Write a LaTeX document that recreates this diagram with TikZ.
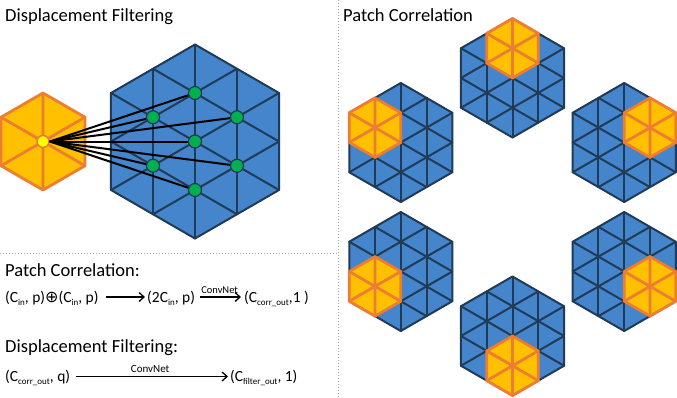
\documentclass[tikz,border=0pt]{standalone}
\usepackage{fontspec}
\setmainfont{Carlito}
\newfontfamily\symfont{DejaVu Sans}
\usetikzlibrary{arrows.meta,calc}
\definecolor{hexblue}{HTML}{4485CC}
\definecolor{hexline}{HTML}{1F3B57}
\definecolor{patchfill}{HTML}{FFC000}
\definecolor{patchline}{HTML}{ED7D31}
\definecolor{dotgreen}{HTML}{00B050}
\definecolor{dotyellow}{HTML}{FFFF00}
\definecolor{divider}{HTML}{A6A6A6}
\newcommand\sbs[1]{\raisebox{-0.22em}{\fontsize{9}{9}\selectfont #1}}
\newcommand\myoplus{{\symfont\fontsize{16}{18}\selectfont ⊕}}
\tikzset{
  latline/.style={hexline, line width=2pt, line join=round, line cap=round},
  patchstroke/.style={patchline, line width=2.8pt, line join=round, line cap=round},
  lattice/.pic={
    \fill[hexblue] (90:2)--(150:2)--(210:2)--(270:2)--(330:2)--(30:2)--cycle;
    \foreach \r in {0,60,120}{
      \draw[latline,rotate=\r] (0,-2)--(0,2) (0.8660,-1.5)--(0.8660,1.5) (-0.8660,-1.5)--(-0.8660,1.5);
    }
    \draw[latline] (90:2)--(150:2)--(210:2)--(270:2)--(330:2)--(30:2)--cycle;
  },
  patch/.pic={
    \fill[patchfill] (90:1)--(150:1)--(210:1)--(270:1)--(330:1)--(30:1)--cycle;
    \draw[patchstroke] (90:1)--(270:1) (30:1)--(210:1) (150:1)--(330:1);
    \draw[patchstroke] (90:1)--(150:1)--(210:1)--(270:1)--(330:1)--(30:1)--cycle;
  },
  gdot/.style={circle, fill=dotgreen, draw=hexline, line width=1.2pt, minimum size=13pt, inner sep=0pt},
  ydot/.style={circle, fill=dotyellow, draw=patchline, line width=1.5pt, minimum size=12pt, inner sep=0pt},
  conn/.style={black, line width=2pt},
  divline/.style={divider, line width=1pt, dash pattern=on 1pt off 2pt},
  ttl/.style={inner sep=0pt, anchor=base west, font=\fontsize{18.5}{22}\selectfont},
  txt/.style={inner sep=0pt, anchor=base west, font=\fontsize{15.5}{18}\selectfont},
  farrow/.style={black, line width=1.3pt, -{Straight Barb[length=5pt,width=9pt]}},
  lbl/.style={inner sep=0pt, anchor=base}
}
\begin{document}
\begin{tikzpicture}[x=1pt,y=-1pt]
\fill[white] (0,0) rectangle (677,397);
\useasboundingbox (0,0) rectangle (677,397);
% dividers
\draw[divline] (338,0) -- (338,397);
\draw[divline] (0,253) -- (338,253);
% titles
\node[ttl] (t1) at (5,21) {Displacement Filtering};
\node[ttl] (t2) at (343,21) {Patch Correlation};
\node[ttl] (t3) at (5,276) {Patch Correlation:};
\node[ttl] (t4) at (5,352) {Displacement Filtering:};
% displacement filtering figure
\coordinate (bigc) at (195,141.5);
\coordinate (ypc) at (43,141.5);
\pic[scale=48.5] at (bigc) {lattice};
\pic[scale=48.5] at (ypc) {patch};
\node[ydot] (y) at (ypc) {};
\node[gdot] (g0) at (bigc) {};
\foreach \k/\t in {1/30,2/90,3/150,4/210,5/270,6/330}{
  \node[gdot] (g\k) at ($(bigc)+(\t:48.5)$) {};
}
\foreach \k in {0,...,6}{
  \draw[conn] (y.east) -- (g\k);
}
% patch correlation figure
\coordinate (pc0) at (512.5,207);
\foreach \t in {270,210,330,150,30,90}{
  \pic[scale=29.75] at ($(pc0)+(\t:129)$) {lattice};
  \pic[scale=29.75] at ($(pc0)+(\t:158.75)$) {patch};
}
% formulas
\node[txt] (pa) at (5,302) {(C\sbs{in}, p)\myoplus(C\sbs{in}, p)};
\node[txt] (pb) at (147,302) {(2C\sbs{in}, p)};
\node[txt] (pcc) at (244,302) {(C\sbs{corr\_out},1 )};
\draw[farrow, shorten <=7pt, shorten >=2pt] ([yshift=5pt]pa.base east) -- ([yshift=5pt]pb.base west);
\draw[farrow, shorten <=5pt, shorten >=3pt] ([yshift=5pt]pb.base east) -- ([yshift=5pt]pcc.base west)
  node[lbl, midway, yshift=4pt, font=\fontsize{10.5}{12}\selectfont] {ConvNet};
\node[txt] (qa) at (5,381) {(C\sbs{corr\_out}, q)};
\node[txt] (qb) at (230,381) {(C\sbs{filter\_out}, 1)};
\draw[farrow, shorten <=6pt, shorten >=2pt] ([yshift=4.5pt]qa.base east) -- ([yshift=4.5pt]qb.base west)
  node[lbl, midway, yshift=4pt, font=\fontsize{11}{13}\selectfont] {ConvNet};
\end{tikzpicture}
\end{document}
